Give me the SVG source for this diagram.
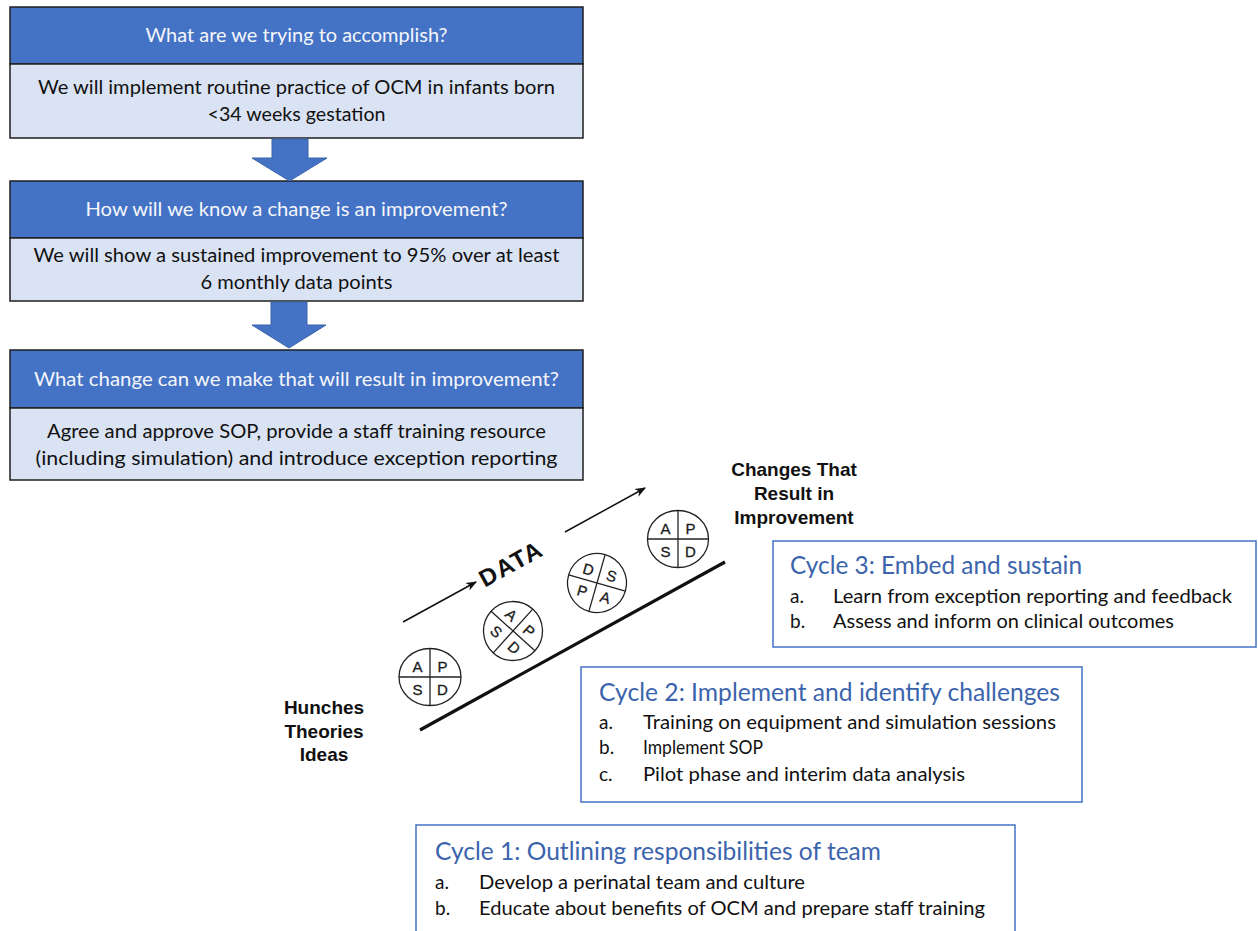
<svg xmlns="http://www.w3.org/2000/svg" width="1258" height="931" viewBox="0 0 1258 931">
  <defs>
    <style>
      .hdr { fill: #4472C4; stroke: #1f1f1f; stroke-width: 1.5; }
      .body { fill: #DAE3F3; stroke: #1f1f1f; stroke-width: 1.5; }
      .htxt { font-family: Lato, "Open Sans", sans-serif; font-size: 18.5px; fill: #f4f6fb; text-anchor: middle; }
      .btxt { font-family: Lato, "Open Sans", sans-serif; font-size: 19.5px; fill: #111; text-anchor: middle; }
      .block { fill: #4472C4; stroke: #3a62a8; stroke-width: 1; }
      .ramp { font-family: "Liberation Sans", Arial, sans-serif; font-weight: bold; fill: #111; text-anchor: middle; }
      .ramp-lbl { font-size: 19px; }
      .pdsa circle, .pdsa ellipse { fill: #fff; stroke: #222; stroke-width: 1.3; }
      .pdsa line { stroke: #222; stroke-width: 1.3; }
      .pdsa text { font-family: "Liberation Sans", Arial, sans-serif; font-size: 15px; fill: #1a1a1a; stroke: #1a1a1a; stroke-width: 0.3; text-anchor: middle; dominant-baseline: central; }
      .cycle { fill: #fff; stroke: #4472C4; stroke-width: 1.5; }
      .ctitle { font-family: Lato, "Open Sans", sans-serif; font-size: 25px; fill: #3B64AD; }
      .citem { font-family: Lato, "Open Sans", sans-serif; font-size: 19px; fill: #111; }
    </style>
    <marker id="ah" viewBox="0 0 10 10" refX="9" refY="5" markerWidth="11" markerHeight="11" markerUnits="userSpaceOnUse" orient="auto">
      <path d="M0,1 L10,5 L0,9 L3,5 Z" fill="#111"/>
    </marker>
  </defs>

  <rect width="1258" height="931" fill="#fff"/>

  <!-- Aim -->
  <g id="box-aim">
    <rect class="hdr" x="10" y="7" width="573" height="57"/>
    <rect class="body" x="10" y="64" width="573" height="74"/>
    <text class="htxt" x="296.5" y="42" textLength="302" lengthAdjust="spacingAndGlyphs">What are we trying to accomplish?</text>
    <text class="btxt" x="296.5" y="94" textLength="517" lengthAdjust="spacingAndGlyphs">We will implement routine practice of OCM in infants born</text>
    <text class="btxt" x="296.5" y="121" textLength="178" lengthAdjust="spacingAndGlyphs">&lt;34 weeks gestation</text>
  </g>

  <!-- Measure -->
  <g id="box-measure">
    <rect class="hdr" x="10" y="181" width="573" height="57"/>
    <rect class="body" x="10" y="238" width="573" height="63"/>
    <text class="htxt" x="296.5" y="216" textLength="422" lengthAdjust="spacingAndGlyphs">How will we know a change is an improvement?</text>
    <text class="btxt" x="296.5" y="262" textLength="526" lengthAdjust="spacingAndGlyphs">We will show a sustained improvement to 95% over at least</text>
    <text class="btxt" x="296.5" y="289" textLength="192" lengthAdjust="spacingAndGlyphs">6 monthly data points</text>
  </g>

  <!-- Change -->
  <g id="box-change">
    <rect class="hdr" x="10" y="350" width="573" height="58"/>
    <rect class="body" x="10" y="408" width="573" height="72"/>
    <text class="htxt" x="296.5" y="386" textLength="525" lengthAdjust="spacingAndGlyphs">What change can we make that will result in improvement?</text>
    <text class="btxt" x="296.5" y="438" textLength="499" lengthAdjust="spacingAndGlyphs">Agree and approve SOP, provide a staff training resource</text>
    <text class="btxt" x="296.5" y="465" textLength="522" lengthAdjust="spacingAndGlyphs">(including simulation) and introduce exception reporting</text>
  </g>

  <!-- block arrows between the question boxes -->
  <g id="connectors">
    <path class="block" d="M272,139 H308 V158 H327 L289.5,181 L252,158 H272 Z"/>
    <path class="block" d="M271,302 H307 V325 H326 L289,348 L252,325 H271 Z"/>
  </g>

  <!-- PDSA ramp -->
  <g id="pdsa-ramp">
    <line x1="420" y1="730" x2="725" y2="562" stroke="#111" stroke-width="3.2"/>
    <line x1="403" y1="622" x2="476" y2="582" stroke="#111" stroke-width="1.5" marker-end="url(#ah)"/>
    <line x1="565" y1="532" x2="645" y2="488" stroke="#111" stroke-width="1.5" marker-end="url(#ah)"/>
    <text class="ramp" font-size="24" letter-spacing="1.5" transform="translate(515,571) rotate(-29)">DATA</text>
    <text class="ramp ramp-lbl" x="324" y="714">Hunches</text>
    <text class="ramp ramp-lbl" x="324" y="738">Theories</text>
    <text class="ramp ramp-lbl" x="324" y="761">Ideas</text>
    <text class="ramp ramp-lbl" x="794" y="476">Changes That</text>
    <text class="ramp ramp-lbl" x="794" y="500">Result in</text>
    <text class="ramp ramp-lbl" x="794" y="524">Improvement</text>

    <g class="pdsa" id="pdsa-1" transform="translate(430,677)">
      <ellipse cx="0" cy="0" rx="31" ry="28.5"/>
      <line x1="-31" y1="0" x2="31" y2="0"/>
      <line x1="0" y1="-28.5" x2="0" y2="28.5"/>
      <text x="-12.5" y="-11">A</text><text x="12.5" y="-11">P</text>
      <text x="-12.5" y="12">S</text><text x="12.5" y="12">D</text>
    </g>
    <g class="pdsa" id="pdsa-2" transform="translate(513,631) rotate(42)">
      <circle cx="0" cy="0" r="29.5"/>
      <line x1="-29.5" y1="0" x2="29.5" y2="0"/>
      <line x1="0" y1="-29.5" x2="0" y2="29.5"/>
      <text x="-12" y="-11">A</text><text x="12" y="-11">P</text>
      <text x="-12" y="11.5">S</text><text x="12" y="11.5">D</text>
    </g>
    <g class="pdsa" id="pdsa-3" transform="translate(597,583) rotate(16)">
      <circle cx="0" cy="0" r="29.5"/>
      <line x1="-29.5" y1="0" x2="29.5" y2="0"/>
      <line x1="0" y1="-29.5" x2="0" y2="29.5"/>
      <text x="-12" y="-11">D</text><text x="12" y="-11">S</text>
      <text x="-12" y="11.5">P</text><text x="12" y="11.5">A</text>
    </g>
    <g class="pdsa" id="pdsa-4" transform="translate(678,539)">
      <ellipse cx="0" cy="0" rx="30.5" ry="28.5"/>
      <line x1="-30.5" y1="0" x2="30.5" y2="0"/>
      <line x1="0" y1="-28.5" x2="0" y2="28.5"/>
      <text x="-12.5" y="-11">A</text><text x="12.5" y="-11">P</text>
      <text x="-12.5" y="12">S</text><text x="12.5" y="12">D</text>
    </g>
  </g>

  <!-- Cycle 3 -->
  <g id="cycle-3">
    <rect class="cycle" x="773" y="541" width="483" height="106"/>
    <text class="ctitle" x="790" y="574" textLength="292" lengthAdjust="spacingAndGlyphs">Cycle 3: Embed and sustain</text>
    <text class="citem" x="790" y="603">a.</text>
    <text class="citem" x="833" y="603" textLength="399" lengthAdjust="spacingAndGlyphs">Learn from exception reporting and feedback</text>
    <text class="citem" x="790" y="628">b.</text>
    <text class="citem" x="833" y="628" textLength="341" lengthAdjust="spacingAndGlyphs">Assess and inform on clinical outcomes</text>
  </g>

  <!-- Cycle 2 -->
  <g id="cycle-2">
    <rect class="cycle" x="581" y="667" width="501" height="135"/>
    <text class="ctitle" x="599" y="701" textLength="461" lengthAdjust="spacingAndGlyphs">Cycle 2: Implement and identify challenges</text>
    <text class="citem" x="599" y="729">a.</text>
    <text class="citem" x="643" y="729" textLength="413" lengthAdjust="spacingAndGlyphs">Training on equipment and simulation sessions</text>
    <text class="citem" x="599" y="754">b.</text>
    <text class="citem" x="643" y="754" textLength="120" lengthAdjust="spacingAndGlyphs">Implement SOP</text>
    <text class="citem" x="599" y="781">c.</text>
    <text class="citem" x="643" y="781" textLength="322" lengthAdjust="spacingAndGlyphs">Pilot phase and interim data analysis</text>
  </g>

  <!-- Cycle 1 -->
  <g id="cycle-1">
    <rect class="cycle" x="416" y="825" width="599" height="120"/>
    <text class="ctitle" x="435" y="860" textLength="446" lengthAdjust="spacingAndGlyphs">Cycle 1: Outlining responsibilities of team</text>
    <text class="citem" x="435" y="889">a.</text>
    <text class="citem" x="479" y="889" textLength="326" lengthAdjust="spacingAndGlyphs">Develop a perinatal team and culture</text>
    <text class="citem" x="435" y="915">b.</text>
    <text class="citem" x="479" y="915" textLength="506" lengthAdjust="spacingAndGlyphs">Educate about benefits of OCM and prepare staff training</text>
  </g>
</svg>
